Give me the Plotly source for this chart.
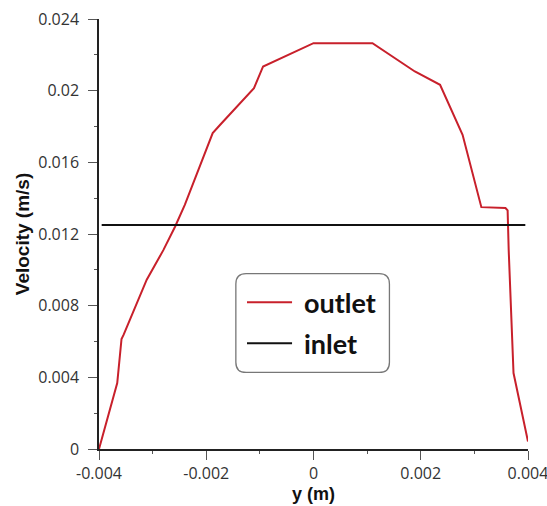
import plotly.graph_objects as go

# Outlet velocity profile across the channel
y_pos_outlet = [-0.0040, -0.00366, -0.00358, -0.00354, -0.00311, -0.00280, -0.00258,
                -0.00240, -0.00188, -0.00174, -0.00111, -0.00094, 0.00000, 0.00110,
                0.00189, 0.00236, 0.00278, 0.00313, 0.00358, 0.00362, 0.00364,
                0.00367, 0.00373, 0.00400]
vel_outlet = [0.0, 0.00368, 0.00614, 0.00638, 0.00945, 0.0111, 0.01242,
              0.01363, 0.01763, 0.0181, 0.02014, 0.02135, 0.02265, 0.02265,
              0.02107, 0.02033, 0.01754, 0.0135, 0.01345, 0.01332, 0.0111,
              0.0087, 0.00424, 0.00042]

# Uniform inlet velocity
y_pos_inlet = [-0.00395, 0.00395]
vel_inlet = [0.0125, 0.0125]

# Axis ticks
x_tick_vals = [-0.004, -0.002, 0.0, 0.002, 0.004]
x_tick_text = ["-0.004", "-0.002", "0", "0.002", "0.004"]
x_minor_vals = [-0.003, -0.001, 0.001, 0.003]
y_tick_vals = [0.0, 0.004, 0.008, 0.012, 0.016, 0.020, 0.024]
y_tick_text = ["0", "0.004", "0.008", "0.012", "0.016", "0.02", "0.024"]
y_minor_vals = [0.002, 0.006, 0.010, 0.014, 0.018, 0.022]

x_title = "y (m)"
y_title = "Velocity (m/s)"
series_names = ["outlet", "inlet"]
series_colors = ["#c8202b", "#111111"]

fig = go.Figure()
fig.add_trace(go.Scatter(
    x=y_pos_outlet, y=vel_outlet, mode="lines", name=series_names[0],
    line=dict(color=series_colors[0], width=2), cliponaxis=False,
    showlegend=False,
))
fig.add_trace(go.Scatter(
    x=y_pos_inlet, y=vel_inlet, mode="lines", name=series_names[1],
    line=dict(color=series_colors[1], width=2), cliponaxis=False,
    showlegend=False,
))

tick_font = dict(family="Open Sans", size=16, color="#333333")
title_font = dict(family="Liberation Sans", size=19, color="#111111", weight="bold")

fig.update_xaxes(
    range=[-0.004, 0.004], automargin=False,
    tickmode="array", tickvals=x_tick_vals, ticktext=x_tick_text,
    ticks="outside", ticklen=9, tickwidth=1.3, tickcolor="#555555",
    minor=dict(tickmode="array", tickvals=x_minor_vals, ticks="outside",
               ticklen=3, tickwidth=1.3, tickcolor="#555555"),
    showline=True, linecolor="#222222", linewidth=1.5,
    showgrid=False, zeroline=False,
    tickfont=tick_font, ticklabelstandoff=0, ticklabeloverflow="allow",
)
fig.update_yaxes(
    range=[0, 0.024], automargin=False,
    tickmode="array", tickvals=y_tick_vals, ticktext=y_tick_text,
    ticks="outside", ticklen=9, tickwidth=1.3, tickcolor="#555555",
    minor=dict(tickmode="array", tickvals=y_minor_vals, ticks="outside",
               ticklen=3, tickwidth=1.3, tickcolor="#555555"),
    showline=True, linecolor="#222222", linewidth=1.5,
    showgrid=False, zeroline=False,
    tickfont=tick_font, ticklabelstandoff=6, ticklabeloverflow="allow",
    title=dict(text=y_title, font=title_font, standoff=4),
)

# x-axis title placed just below the tick labels
fig.add_annotation(text=x_title, xref="paper", yref="paper", x=0.5, y=0,
                   yshift=-45, xanchor="center", yanchor="middle",
                   showarrow=False, font=dict(title_font, size=18))

# Legend box with rounded corners (paper coordinates)
x0, x1, y0, y1 = 0.319, 0.677, 0.178, 0.408
rx, ry = 0.024, 0.024
frame = (f"M {x0+rx},{y0} L {x1-rx},{y0} Q {x1},{y0} {x1},{y0+ry} "
         f"L {x1},{y1-ry} Q {x1},{y1} {x1-rx},{y1} "
         f"L {x0+rx},{y1} Q {x0},{y1} {x0},{y1-ry} "
         f"L {x0},{y0+ry} Q {x0},{y0} {x0+rx},{y0} Z")
fig.add_shape(type="path", path=frame, xref="paper", yref="paper",
              line=dict(color="#777777", width=1.3), fillcolor="rgba(0,0,0,0)",
              layer="below")

# Legend entries: sample line + label
entry_rows = [0.341, 0.246]
sample_x0, sample_x1, label_x = 0.345, 0.450, 0.473
for name, color, yr in zip(series_names, series_colors, entry_rows):
    fig.add_shape(type="line", xref="paper", yref="paper",
                  x0=sample_x0, x1=sample_x1, y0=yr, y1=yr,
                  line=dict(color=color, width=2))
    fig.add_annotation(text=name, xref="paper", yref="paper",
                       x=label_x, y=yr, xanchor="left", yanchor="middle",
                       showarrow=False,
                       font=dict(family="Lato", size=27, color="#111111",
                                 weight="bold"))

fig.update_layout(
    width=547, height=506,
    margin=dict(l=99, r=19, t=19, b=57),
    paper_bgcolor="white", plot_bgcolor="white",
)

fig.write_html("out.html")
